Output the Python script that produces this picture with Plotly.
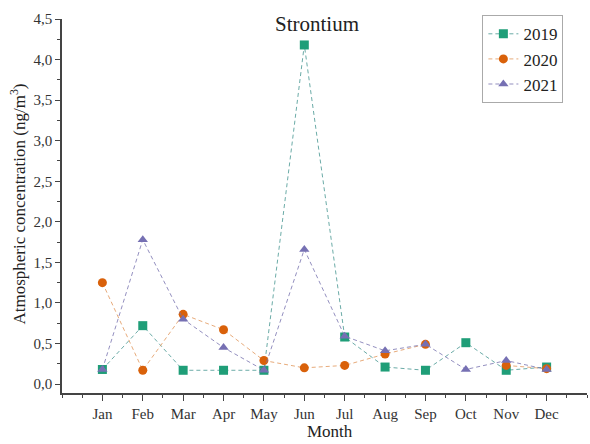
import plotly.graph_objects as go

months = ["Jan", "Feb", "Mar", "Apr", "May", "Jun", "Jul", "Aug", "Sep", "Oct", "Nov", "Dec"]
month_pos = list(range(1, 13))

sr_2019 = [0.18, 0.72, 0.17, 0.17, 0.17, 4.18, 0.58, 0.21, 0.17, 0.51, 0.17, 0.21]
sr_2020 = [1.25, 0.17, 0.86, 0.67, 0.29, 0.20, 0.23, 0.37, 0.49, None, 0.23, 0.19]
sr_2021 = [0.18, 1.78, 0.80, 0.45, 0.17, 1.66, 0.59, 0.41, 0.49, 0.18, 0.29, 0.18]

y_ticks = [0.0, 0.5, 1.0, 1.5, 2.0, 2.5, 3.0, 3.5, 4.0, 4.5]

series = [
    ("2019", sr_2019, "#1f9e78", "rgba(70,150,145,0.8)", "square"),
    ("2020", sr_2020, "#d9610a", "rgba(225,150,90,0.8)", "circle"),
    ("2021", sr_2021, "#7670b3", "rgba(120,115,175,0.8)", "triangle-up"),
]

fig = go.Figure()
for name, vals, mcol, lcol, sym in series:
    fig.add_trace(go.Scatter(
        x=month_pos, y=vals, name=name, mode="lines+markers",
        line=dict(color=lcol, width=1.0, dash="4px,3px"),
        marker=dict(color=mcol, symbol=sym, size=9, line=dict(width=0)),
        connectgaps=False,
    ))

serif = "Liberation Serif, Times New Roman, serif"
title_font = dict(family=serif, size=17, color="#222222")

fig.update_layout(
    width=590, height=444,
    margin=dict(l=62, r=3, t=19, b=51),
    paper_bgcolor="white", plot_bgcolor="white",
    separators=",.",
    font=dict(family=serif, size=14, color="#333333"),
    showlegend=True,
    legend=dict(
        x=0.955, y=1.01, xanchor="right", yanchor="top",
        bordercolor="#aaaaaa", borderwidth=1, bgcolor="white",
        font=dict(family=serif, size=17, color="#222222"),
        itemwidth=30, tracegroupgap=0,
    ),
    annotations=[
        dict(text="Strontium", xref="paper", yref="paper", x=0.485, y=1.025,
             xanchor="center", yanchor="top", showarrow=False,
             font=dict(family=serif, size=21, color="#222222")),
        # x-axis title
        dict(text="Month", xref="paper", yref="paper", x=0.51, y=-0.103,
             xanchor="center", yanchor="middle", showarrow=False,
             font=title_font),
        # y-axis title
        dict(text="Atmospheric concentration (ng/m<sup>3</sup>)",
             xref="paper", yref="paper", x=-0.083, y=0.505,
             xanchor="center", yanchor="middle", showarrow=False,
             textangle=-90, font=title_font),
    ],
)

fig.update_xaxes(
    range=[0, 13], tickmode="array",
    tickvals=month_pos, ticktext=months, automargin=False,
    showline=True, linecolor="#444444", linewidth=1.5,
    ticks="outside", ticklen=6, tickwidth=1.2, tickcolor="#444444",
    minor=dict(ticks="outside", ticklen=3, tickwidth=1.2, tickcolor="#444444",
               dtick=0.5, tick0=0),
    showgrid=False, zeroline=False,
    tickfont=dict(family=serif, size=15, color="#333333"),
)

fig.update_yaxes(
    range=[-0.11, 4.5], tickmode="array", tickvals=y_ticks, tickformat=".1f",
    automargin=False,
    showline=True, linecolor="#444444", linewidth=1.5,
    ticks="outside", ticklen=5, tickwidth=1.2, tickcolor="#444444",
    minor=dict(ticks="outside", ticklen=3, tickwidth=1.2, tickcolor="#444444",
               dtick=0.25, tick0=0),
    showgrid=False, zeroline=False,
    tickfont=dict(family=serif, size=15, color="#333333"),
)

fig.write_html("out.html")
